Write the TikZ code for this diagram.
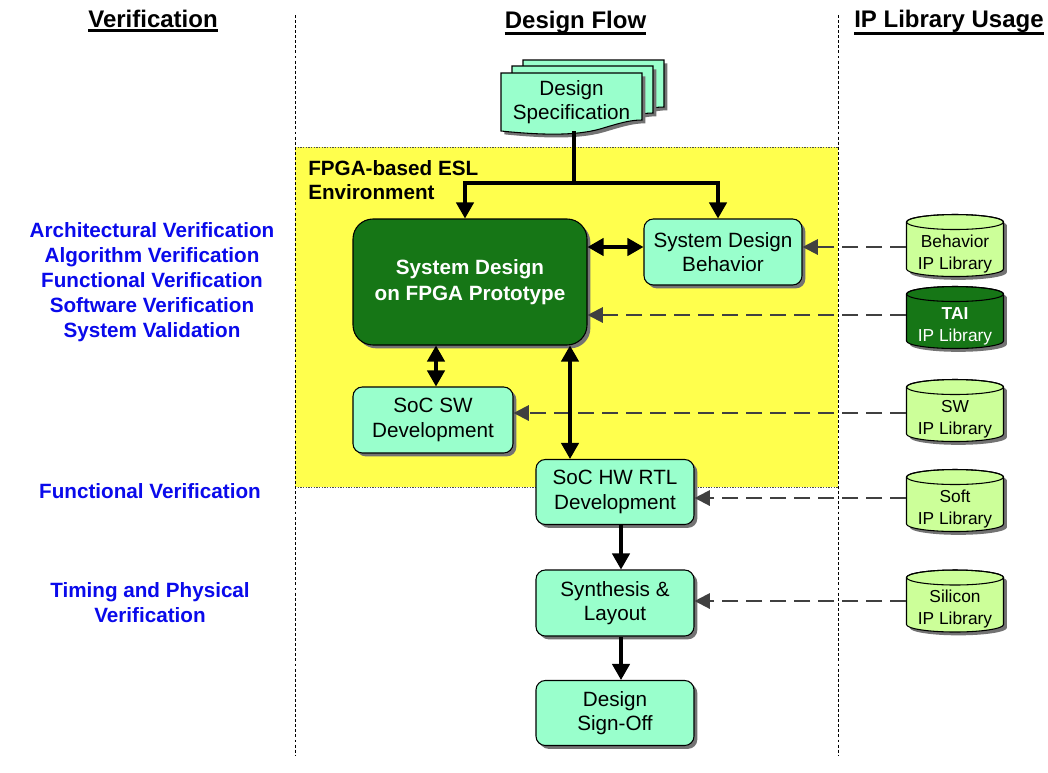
\documentclass[tikz,border=0pt]{standalone}
\usepackage{fontspec}
\setmainfont{Liberation Sans}
\usetikzlibrary{arrows.meta,shadows,calc}
\definecolor{mint}{RGB}{153,255,204}
\definecolor{limeg}{RGB}{204,255,153}
\definecolor{esly}{RGB}{255,255,77}
\definecolor{fpgag}{RGB}{22,118,22}
\definecolor{dgray}{RGB}{64,64,64}
\definecolor{vblue}{RGB}{10,10,235}
\begin{document}
\begin{tikzpicture}[x=0.75pt,y=-0.75pt,
  shad/.style={drop shadow={shadow xshift=2.5pt,shadow yshift=-2.5pt,fill=black!55,opacity=1}},
  box/.style={draw=black,line width=0.8pt,fill=mint,rounded corners=7pt,align=center,
    font=\fontsize{15.5}{18.5}\selectfont,inner sep=0pt,minimum width=118.5pt,minimum height=49.5pt,shad},
  bigbox/.style={box,fill=fpgag,text=white,font=\bfseries\fontsize{15.5}{19.5}\selectfont,
    rounded corners=15pt,minimum width=175.5pt,minimum height=94.5pt},
  cyl/.style={inner sep=0pt,minimum width=72.75pt,minimum height=36pt,align=center,
    font=\fontsize{13}{16.5}\selectfont},
  hdr/.style={inner sep=0pt,font=\bfseries\fontsize{18}{21}\selectfont},
  vlab/.style={inner sep=0pt,align=center,text=vblue,font=\bfseries\fontsize{15.5}{18.75}\selectfont},
  arr/.style={line width=2.4pt,-{Triangle[width=13pt,length=12pt]}},
  dblarr/.style={line width=2.4pt,{Triangle[width=13pt,length=12pt]}-{Triangle[width=13pt,length=12pt]}},
  darr/.style={draw=dgray,line width=1.6pt,dash pattern=on 12pt off 6pt,-{Triangle[width=11.5pt,length=11.5pt]}},
  vsep/.style={line width=0.6pt,dash pattern=on 2.2pt off 1.6pt},
  pics/docpage/.style={code={
    \filldraw[fill=mint,draw=black,line width=0.8pt,shad]
      (0,58) -- (0,0) -- (141,0) -- (141,47) .. controls (129,47) and (119,50) .. (99,56)
      .. controls (74,63) and (39,62) .. (0,58) -- cycle;}},
  pics/ipcyl/.style={code={
    \filldraw[fill=#1,draw=black,line width=0.8pt,shad]
      (-48.5,-27.25) -- (-48.5,19.75) arc[start angle=180,end angle=360,x radius=36.375pt,y radius=5.625pt]
      -- (48.5,-27.25) arc[start angle=0,end angle=180,x radius=36.375pt,y radius=5.625pt] -- cycle;
    \draw[line width=0.8pt] (0,-27.25) ellipse[x radius=36.375pt,y radius=5.625pt];}}
]
\useasboundingbox (0,0) rectangle (1048,772);
\fill[white] (0,0) rectangle (1048,772);

% ESL region
\fill[esly] (295,147) rectangle (838,487);
\draw[black!70,line width=0.6pt,dash pattern=on 1pt off 1pt] (295,147) -- (838,147);
\draw[black!70,line width=0.6pt,dash pattern=on 1pt off 1pt] (295,487) -- (838,487);

% column separators
\draw[vsep] (295,15) -- (295,755);
\draw[vsep] (838,15) -- (838,755);

% headers
\node[hdr,anchor=base] (h1) at (153,27) {Verification};
\node[hdr,anchor=base] (h2) at (575.5,28) {Design Flow};
\node[hdr,anchor=base] (h3) at (949,27) {IP Library Usage};
\draw[line width=2.2pt] ($(h1.base west)+(0,3.5)$) -- ($(h1.base east)+(0,3.5)$);
\draw[line width=2.2pt] ($(h2.base west)+(0,5.5)$) -- ($(h2.base east)+(0,5.5)$);
\draw[line width=2.2pt] ($(h3.base west)+(0,6.5)$) -- ($(h3.base east)+(0,6.5)$);

% verification labels
\node[vlab] (v1) at (152,282) {Architectural Verification\\Algorithm Verification\\Functional Verification\\Software Verification\\System Validation};
\node[vlab] (v2) at (150,491) {Functional Verification};
\node[vlab] (v3) at (150,603) {Timing and Physical\\Verification};

% design specification (document stack)
\pic at (523,60) {docpage};
\pic at (512,66) {docpage};
\pic at (501,73) {docpage};
\node[inner sep=0pt,minimum width=105.75pt,minimum height=43.5pt,align=center,
  font=\fontsize{15.5}{18}\selectfont] (spec) at (571.5,102) {Design\\Specification};

\node[inner sep=0pt,anchor=north west,align=left,font=\bfseries\fontsize{15.5}{18.5}\selectfont]
  (esl) at (308,160) {FPGA-based ESL\\Environment};

% flow boxes
\node[bigbox] (fpga) at (470,282) {System Design\\on FPGA Prototype};
\node[box] (beh) at (723,252) {System Design\\Behavior};
\node[box,minimum width=120pt] (sw) at (433,420) {SoC SW\\Development};
\node[box,minimum height=48.75pt] (hw) at (615,492) {SoC HW RTL\\Development};
\node[box] (syn) at (615,603) {Synthesis \&\\Layout};
\node[box,minimum height=48.75pt] (sign) at (615,713) {Design\\Sign-Off};

% IP libraries (shape drawn by pic, text node 5px lower)
\pic at (955,249.25) {ipcyl=limeg};
\node[cyl] (cbeh) at (955,254) {Behavior\\IP Library};
\pic at (955,321.25) {ipcyl=fpgag};
\node[cyl,text=white] (ctai) at (955,326) {\textbf{TAI}\\IP Library};
\pic at (955,414.25) {ipcyl=limeg};
\node[cyl] (csw) at (955,419) {SW\\IP Library};
\pic at (955,504.25) {ipcyl=limeg};
\node[cyl] (csoft) at (955,509) {Soft\\IP Library};
\pic at (955,604.75) {ipcyl=limeg};
\node[cyl] (csil) at (955,609.5) {Silicon\\IP Library};

% dashed IP usage arrows
\coordinate (a1) at ($(cbeh.west)+(0,-7)$);
\coordinate (a2) at ($(ctai.west)+(0,-11)$);
\coordinate (a3) at ($(csw.west)+(0,-6)$);
\coordinate (a4) at ($(csoft.west)+(0,-11)$);
\coordinate (a5) at ($(csil.west)+(0,-8.5)$);
\draw[darr] (a1) -- (a1 -| beh.east);
\draw[darr] (a2) -- (a2 -| fpga.east);
\draw[darr] (a3) -- (a3 -| sw.east);
\draw[darr] (a4) -- (a4 -| hw.east);
\draw[darr] (a5) -- (a5 -| syn.east);

% solid flow arrows
\coordinate (j) at (574,183);
\draw[line width=2.4pt] (spec.south -| j) -- (j);
\draw[arr] (j) -| ($(fpga.north)+(-5,0)$);
\draw[arr] (j) -| ($(beh.north)+(-5,0)$);
\coordinate (d1) at ($(beh.west)+(0,-5)$);
\draw[dblarr] (d1 -| fpga.east) -- (d1);
\coordinate (d2) at ($(sw.north)+(3,0)$);
\draw[dblarr] (d2 |- fpga.south) -- (d2);
\coordinate (d3) at ($(hw.north)+(-45,0)$);
\draw[dblarr] (d3 |- fpga.south) -- (d3);
\coordinate (d4) at ($(hw.south)+(6,0)$);
\draw[arr] (d4) -- (d4 |- syn.north);
\coordinate (d5) at ($(syn.south)+(6,0)$);
\draw[arr] (d5) -- (d5 |- sign.north);
\end{tikzpicture}
\end{document}
